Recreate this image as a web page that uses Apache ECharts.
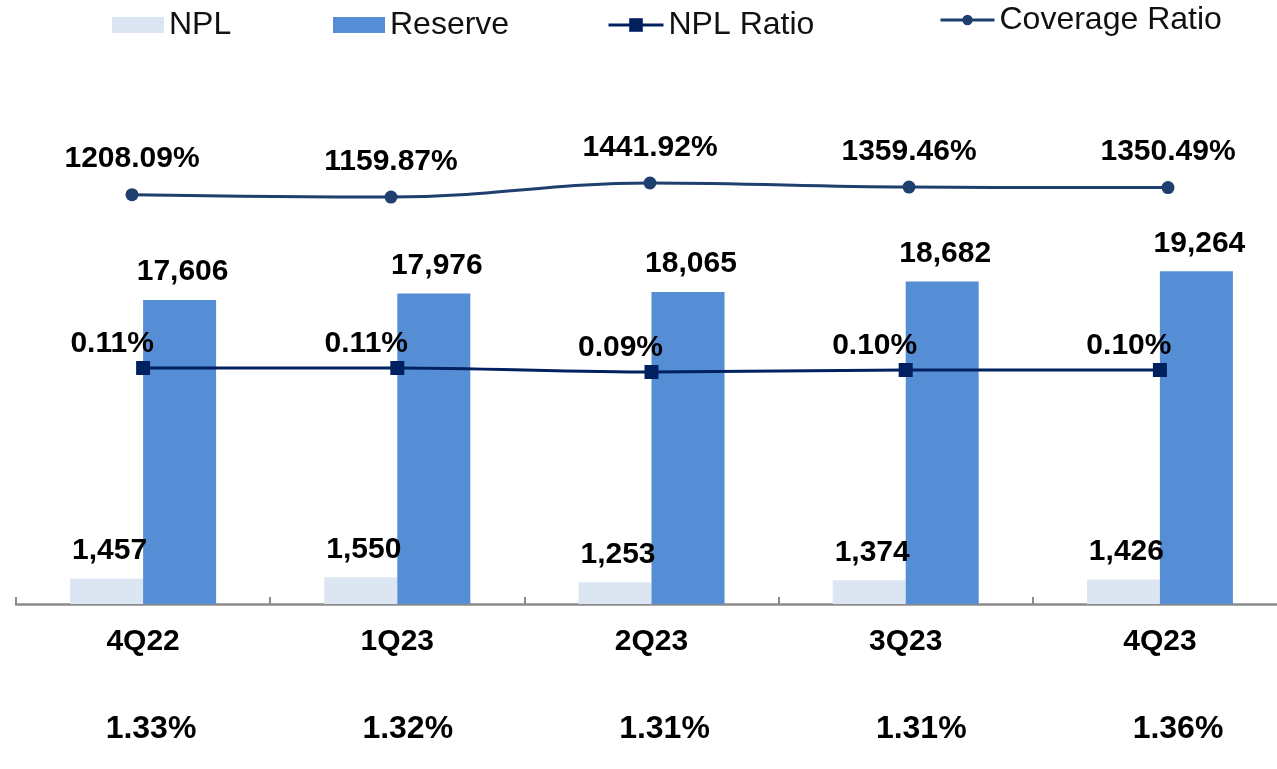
<!DOCTYPE html>
<html>
<head>
<meta charset="utf-8">
<script src="https://cdn.jsdelivr.net/npm/echarts@6/dist/echarts.min.js"></script>
<style>
	html, body { margin: 0; padding: 0; background: #fff; }
	#chart { width: 1277px; height: 769px; }
</style>
</head>
<body>
<div id="chart"></div>
<script>
// data
var quarters = ['4Q22', '1Q23', '2Q23', '3Q23', '4Q23'];
var nplData = [1457, 1550, 1253, 1374, 1426];
var reserveData = [17606, 17976, 18065, 18682, 19264];
var nplRatioData = [0.11, 0.11, 0.09, 0.10, 0.10];
var coverageData = [1208.09, 1159.87, 1441.92, 1359.46, 1350.49];
var bottomRowLabels = ['1.33%', '1.32%', '1.31%', '1.31%', '1.36%'];

var FONT = 'Liberation Sans, Arial, sans-serif';

function fmtNum(v) {
	return v.toLocaleString('en-US');
}

var chart = echarts.init(document.getElementById('chart'));

var legendText = { fontFamily: FONT, fontSize: 32, color: '#111' };

var option = {
	animation: false,
	backgroundColor: '#fff',
	legend: [
		{ data: ['NPL'], left: 112, top: 9, padding: 0, icon: 'rect', itemWidth: 52, itemHeight: 16, textStyle: legendText },
		{ data: ['Reserve'], left: 333, top: 9, padding: 0, icon: 'rect', itemWidth: 52, itemHeight: 16, textStyle: legendText },
		{ data: ['NPL Ratio'], left: 607, top: 9, padding: 0, itemWidth: 55, itemHeight: 17, lineStyle: { width: 3 }, textStyle: legendText },
		{ data: ['Coverage Ratio'], left: 939, top: 4, padding: 0, itemWidth: 54, itemHeight: 13, lineStyle: { width: 3 }, textStyle: legendText }
	],
	grid: [
		// bars + npl ratio, runs a little past the right edge like the original
		{ left: 16, width: 1271, top: 86, bottom: 165, outerBoundsMode: 'none' },
		{ left: 132, right: 109, top: 86, bottom: 165, outerBoundsMode: 'none' },  // coverage line
		{ left: 151, right: 99, top: 86, bottom: 165, outerBoundsMode: 'none' }    // bottom row of ratios
	],
	xAxis: [
		{
			type: 'category',
			gridIndex: 0,
			data: quarters,
			axisLine: { lineStyle: { color: '#8c8c8c', width: 2.5 } },
			axisTick: { show: true, inside: true, length: 7, lineStyle: { color: '#8c8c8c', width: 2 } },
			axisLabel: { margin: 23, fontFamily: FONT, fontSize: 30, fontWeight: 'bold', color: '#000' }
		},
		{
			type: 'category',
			gridIndex: 1,
			data: quarters,
			boundaryGap: false,
			show: false
		},
		{
			type: 'category',
			gridIndex: 2,
			data: bottomRowLabels,
			boundaryGap: false,
			axisLine: { show: false },
			axisTick: { show: false },
			axisLabel: { interval: 0, margin: 109, fontFamily: FONT, fontSize: 32, fontWeight: 'bold', color: '#000' }
		}
	],
	yAxis: [
		{ type: 'value', gridIndex: 0, min: 0, max: 30000, show: false },
		{ type: 'value', gridIndex: 0, min: -1.07, max: 1.52, show: false },
		{ type: 'value', gridIndex: 1, min: -7020, max: 3392, show: false },
		{ type: 'value', gridIndex: 2, min: 0, max: 1, show: false }
	],
	series: [
		{
			name: 'NPL',
			type: 'bar',
			xAxisIndex: 0,
			yAxisIndex: 0,
			barWidth: 73,
			barGap: '0%',
			itemStyle: { color: '#dce6f2' },
			label: {
				show: true, position: 'top', distance: 13, offset: [3, 0],
				fontFamily: FONT, fontSize: 30, fontWeight: 'bold', color: '#000',
				formatter: function(p) { return fmtNum(p.value); }
			},
			data: nplData
		},
		{
			name: 'Reserve',
			type: 'bar',
			xAxisIndex: 0,
			yAxisIndex: 0,
			barWidth: 73,
			barGap: '0%',
			itemStyle: { color: '#558ed5' },
			label: {
				show: true, position: 'top', distance: 13, offset: [3, 0],
				fontFamily: FONT, fontSize: 30, fontWeight: 'bold', color: '#000',
				formatter: function(p) { return fmtNum(p.value); }
			},
			data: reserveData
		},
		{
			name: 'NPL Ratio',
			type: 'line',
			xAxisIndex: 0,
			yAxisIndex: 1,
			smooth: 0.3,
			symbol: 'rect',
			symbolSize: 14,
			lineStyle: { color: '#002060', width: 3 },
			itemStyle: { color: '#002060' },
			label: {
				show: true, position: 'top', distance: 2, offset: [-31, 0],
				fontFamily: FONT, fontSize: 30, fontWeight: 'bold', color: '#000',
				formatter: function(p) { return p.value.toFixed(2) + '%'; }
			},
			data: nplRatioData
		},
		{
			name: 'Coverage Ratio',
			type: 'line',
			xAxisIndex: 1,
			yAxisIndex: 2,
			smooth: 0.4,
			symbol: 'circle',
			symbolSize: 13,
			lineStyle: { color: '#1f3f6e', width: 3 },
			itemStyle: { color: '#1f3f6e' },
			label: {
				show: true, position: 'top', distance: 14,
				fontFamily: FONT, fontSize: 30, fontWeight: 'bold', color: '#000',
				formatter: function(p) { return p.value.toFixed(2) + '%'; }
			},
			data: coverageData
		}
	]
};

chart.setOption(option);
</script>
</body>
</html>
